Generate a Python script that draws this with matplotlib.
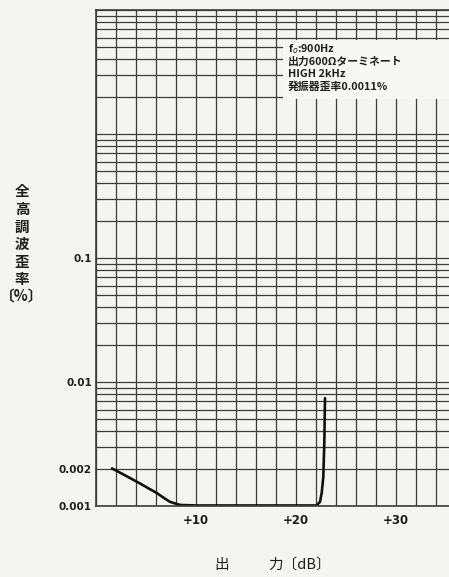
import matplotlib
matplotlib.use("Agg")
import matplotlib.pyplot as plt
from matplotlib.ticker import FixedLocator, MultipleLocator, LogLocator, NullFormatter

plt.rcParams['font.family'] = ['Noto Sans CJK JP', 'DejaVu Sans']

# 出力 (dB) と 全高調波歪率 (%)
OUT_DB = [1.6, 3.0, 4.4, 5.3, 6.1, 6.8, 7.4, 8.4, 10.0, 15.0, 20.0, 22.05,
          22.4, 22.57, 22.73, 22.83, 22.9]
THD = [0.00201, 0.00175, 0.00152, 0.00138, 0.00127, 0.00116, 0.00108, 0.00102,
       0.00101, 0.00101, 0.00101, 0.00101, 0.00108, 0.00127, 0.00172, 0.0032, 0.0074]

Y_TICKS = [0.001, 0.002, 0.01, 0.1]
Y_LABELS = ["0.001", "0.002", "0.01", "0.1"]
X_TICKS = [10, 20, 30]
X_LABELS = ["+10", "+20", "+30"]
NOTE = ["f$_o$:900Hz", "出力600Ωターミネート", "HIGH 2kHz", "発振器歪率0.0011%"]

BG = "#f4f4f1"
GRID = "#3c3c3c"
INK = "#1e1e1e"

fig = plt.figure(figsize=(4.49, 5.77), dpi=100, facecolor=BG)
ax = fig.add_axes([96 / 449, 71 / 577, 360 / 449, 496 / 577])
ax.set_facecolor(BG)
ax.set_yscale("log")
ax.set_xlim(0, 36)
ax.set_ylim(0.001, 10)

ax.xaxis.set_major_locator(FixedLocator(X_TICKS))
ax.set_xticklabels(X_LABELS)
ax.xaxis.set_minor_locator(MultipleLocator(2))
ax.yaxis.set_major_locator(FixedLocator(Y_TICKS))
ax.set_yticklabels(Y_LABELS)
ax.yaxis.set_minor_locator(LogLocator(base=10, subs=range(1, 10)))
ax.yaxis.set_minor_formatter(NullFormatter())
ax.grid(True, which="both", color=GRID, linewidth=0.9)
ax.tick_params(which="both", length=0)
ax.tick_params(axis="y", pad=3, colors=INK)
ax.tick_params(axis="x", pad=6, colors=INK)
for lab in ax.get_yticklabels():
    lab.set_fontfamily("DejaVu Sans")
    lab.set_fontweight("bold")
    lab.set_fontsize(7.5)
for lab in ax.get_xticklabels():
    lab.set_fontfamily("DejaVu Sans")
    lab.set_fontweight("bold")
    lab.set_fontsize(8.5)
for s in ["left", "bottom", "top"]:
    ax.spines[s].set_color(GRID)
    ax.spines[s].set_linewidth(1.2)

ax.plot(OUT_DB, THD, color="#111111", linewidth=1.9, solid_capstyle="round")

# 注記
fig.patches.append(plt.Rectangle((283 / 449, 1 - 99 / 577), 166 / 449, 59 / 577,
                                 transform=fig.transFigure, facecolor="#f7f7f4",
                                 edgecolor="none", zorder=5))
for i, line in enumerate(NOTE):
    fig.text(288 / 449, 1 - (49 + 12.7 * i) / 577, line, fontsize=7.8,
             fontweight="bold", va="center", ha="left", color=INK, zorder=6)

fig.text(22 / 449, 1 - 244 / 577, "\n".join("全高調波歪率") + "\n〔%〕",
         fontsize=10.5, fontweight="bold", ha="center", va="center",
         linespacing=1.12, color=INK)
fig.text(222 / 449, 1 - 565 / 577, "出", fontsize=10.5, ha="center",
         va="center", color=INK)
fig.text(268 / 449, 1 - 565 / 577, "力〔dB〕", fontsize=10.5, ha="left",
         va="center", color=INK)

fig.savefig("out.png", dpi=100, facecolor=BG)
